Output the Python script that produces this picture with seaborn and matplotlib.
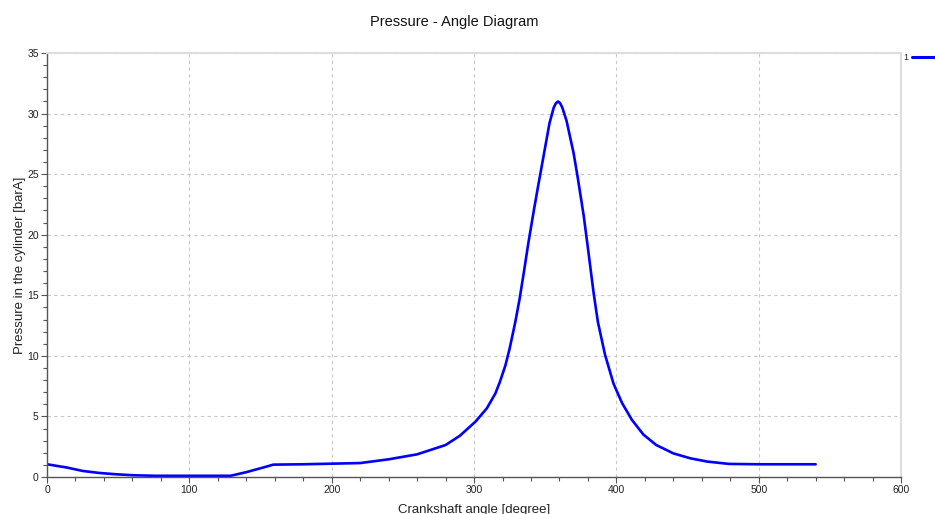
"""
Pressure - angle diagram of a cylinder
"""

import matplotlib
matplotlib.use("Agg")
import matplotlib.pyplot as plt
from matplotlib.ticker import MultipleLocator
import seaborn as sns
import pandas as pd

# crank angle [degree] and cylinder pressure [barA]
angle = [0, 14, 25, 37, 49, 61, 76, 100, 120, 129, 140, 150, 159, 180, 200,
         220, 240, 260, 280, 290, 301, 309, 315, 318, 322, 325, 329, 332, 335,
         338, 342, 345, 349, 353, 356, 357.5, 359, 360.5, 362, 365, 370, 373,
         377, 380, 384, 387, 392, 398, 404, 411, 419, 428, 440, 452, 464, 479,
         500, 520, 540]
pressure = [1.05, 0.78, 0.5, 0.33, 0.22, 0.14, 0.1, 0.1, 0.1, 0.1, 0.4, 0.72,
            1.02, 1.05, 1.1, 1.15, 1.46, 1.87, 2.64, 3.4, 4.57, 5.67, 6.9, 7.8,
            9.2, 10.6, 12.8, 14.7, 16.9, 19.2, 22.0, 24.0, 26.6, 29.2, 30.5,
            30.85, 31.0, 30.85, 30.5, 29.4, 26.7, 24.6, 21.6, 18.9, 15.2, 12.8,
            10.1, 7.7, 6.1, 4.7, 3.5, 2.64, 1.95, 1.54, 1.27, 1.08, 1.05, 1.05,
            1.05]
series_name = "1"

x_ticks = [0, 100, 200, 300, 400, 500, 600]
y_ticks = [0, 5, 10, 15, 20, 25, 30, 35]

df = pd.DataFrame({"angle": angle, "pressure": pressure, "series": series_name})

sns.set_style("white")
plt.rcParams['font.family'] = ['Liberation Sans', 'DejaVu Sans']

fig = plt.figure(figsize=(9.35, 5.14), dpi=100)
ax = fig.add_axes([0.0503, 0.072, 0.9134, 0.8249])

sns.lineplot(data=df, x="angle", y="pressure", hue="series",
             palette=["#0000ff"], linewidth=1.9, ax=ax, sort=False)

ax.set_xlim(x_ticks[0], x_ticks[-1])
ax.set_ylim(y_ticks[0], y_ticks[-1])
ax.set_xticks(x_ticks)
ax.set_yticks(y_ticks)
ax.xaxis.set_minor_locator(MultipleLocator(20))
ax.yaxis.set_minor_locator(MultipleLocator(1))

ax.grid(True, which='major', linestyle=(0, (3, 3)), color='#c8c8c8', linewidth=0.8)
ax.tick_params(which='major', direction='out', length=4, width=0.8,
               color='#555555', labelsize=7.5, labelcolor='#222222', pad=2)
ax.tick_params(which='minor', direction='out', length=3, width=0.8, color='#555555')
ax.tick_params(axis='x', which='both', bottom=True, top=False)
ax.tick_params(axis='y', which='both', left=True, right=False)

for side in ['left', 'bottom']:
    ax.spines[side].set_color('#555555')
    ax.spines[side].set_linewidth(1.0)
for side in ['top', 'right']:
    ax.spines[side].set_color('#dddddd')
    ax.spines[side].set_linewidth(1.5)

ax.set_xlabel('Crankshaft angle [degree]', fontsize=9.5, color='#222222', labelpad=6)
ax.set_ylabel('Pressure in the cylinder [barA]', fontsize=9.5, color='#222222', labelpad=1)

fig.text(0.486, 0.958, 'Pressure - Angle Diagram', ha='center', va='center',
         fontsize=10.5, color='#111111')

leg = ax.legend(loc='upper left', bbox_to_anchor=(1.003, 1.0), frameon=False,
                markerfirst=False, fontsize=6.5, handlelength=2.5,
                handletextpad=0.4, borderaxespad=0, borderpad=0)
for h in leg.get_lines():
    h.set_linewidth(2.2)

plt.savefig('out.png', dpi=100)
